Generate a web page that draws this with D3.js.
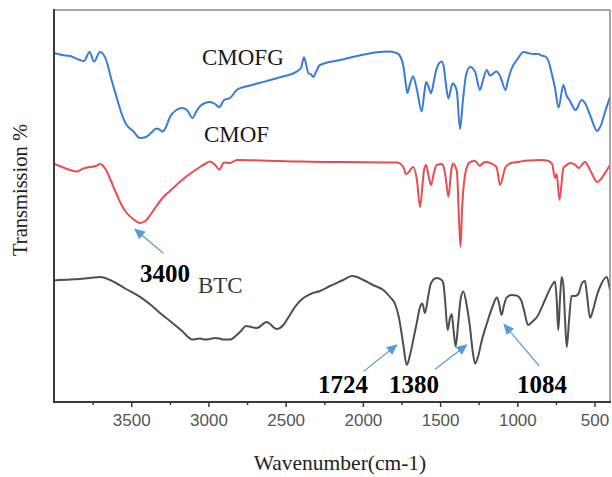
<!DOCTYPE html>
<html>
<head>
<meta charset="utf-8">
<script src="https://cdn.jsdelivr.net/npm/d3@7"></script>
<style>
  body { margin: 0; background: #fff; }
  svg { display: block; }
</style>
</head>
<body>
<div id="chart"></div>
<script>
// FTIR spectra, wavenumber (cm-1) vs transmission (offset, a.u.)
var cmofgWave = [4000, 3948, 3896, 3832, 3806, 3770, 3741, 3702, 3660, 3631, 3595, 3566, 3534, 3488, 3443, 3404, 3372, 3336, 3314, 3297, 3275, 3249, 3207, 3171, 3139, 3103, 3080, 3055, 3022, 2990, 2957, 2930, 2899, 2860, 2817, 2744, 2666, 2537, 2429, 2401, 2381, 2368, 2353, 2339, 2321, 2304, 2278, 2148, 1975, 1846, 1781, 1753, 1738, 1721, 1712, 1695, 1675, 1650, 1619, 1604, 1591, 1572, 1559, 1539, 1522, 1490, 1475, 1462, 1446, 1429, 1418, 1403, 1391, 1371, 1352, 1332, 1306, 1274, 1242, 1222, 1198, 1177, 1135, 1112, 1076, 1060, 1038, 996, 960, 931, 896, 866, 842, 814, 799, 775, 756, 733, 702, 680, 659, 623, 583, 562, 529, 482, 458, 432, 400];
var cmofgT = [87.25, 86.75, 86.5, 85.5, 85.25, 87.5, 85.1, 87.5, 85.25, 81, 76.25, 72.5, 69.5, 67.75, 66, 66.25, 67.25, 68.4, 68, 67.6, 68.75, 71.25, 73, 73.5, 73, 71, 72.5, 73.9, 74.75, 75, 74.5, 73.7, 75.5, 76, 78, 79, 79.8, 81.2, 82.6, 83.5, 86.2, 84.5, 82.2, 82, 81.25, 82.5, 84.25, 85.5, 87, 87.6, 87.25, 86, 84, 79.25, 77.25, 79.5, 81.4, 78, 72.6, 76.75, 80, 78.5, 77.2, 80.5, 83.4, 85.1, 83.5, 79.25, 75.9, 78.5, 79.7, 79, 77.5, 68.25, 75.5, 81.75, 83.75, 82.6, 78, 80.5, 83, 81.6, 82.6, 81.5, 78, 80.5, 83.25, 85.9, 87.5, 87.25, 87, 87, 86.6, 86.25, 85.25, 81.75, 78.5, 73.6, 79.25, 76.5, 75.25, 73, 75.5, 74.75, 71.75, 67.75, 69.25, 72.5, 76.25];

var cmofWave = [4000, 3948, 3896, 3858, 3806, 3767, 3728, 3702, 3663, 3631, 3595, 3566, 3534, 3488, 3443, 3404, 3372, 3336, 3297, 3249, 3207, 3171, 3103, 3055, 3022, 2990, 2957, 2930, 2899, 2860, 2817, 2666, 2407, 2148, 1846, 1781, 1738, 1721, 1708, 1675, 1650, 1630, 1604, 1591, 1572, 1559, 1539, 1522, 1490, 1475, 1462, 1446, 1429, 1418, 1403, 1391, 1380, 1368, 1358, 1332, 1306, 1274, 1242, 1222, 1198, 1177, 1135, 1112, 1076, 1038, 996, 931, 842, 799, 775, 756, 745, 727, 702, 680, 659, 623, 604, 562, 529, 482, 458, 432, 400];
var cmofT = [59.6, 58.75, 58, 57.6, 58.4, 58.75, 59, 59.5, 58, 55.25, 52, 49.5, 47.5, 45.75, 44.75, 45.4, 47, 49, 51, 52.75, 54.25, 55.5, 57.5, 58.75, 59.5, 60.1, 59.25, 58.1, 59.9, 59.75, 60.5, 60.4, 60.1, 60, 59.9, 59.9, 58.75, 57, 57.25, 58.75, 55.5, 48.75, 58, 59.25, 56, 54.25, 57.5, 59.25, 59.5, 58.5, 55.5, 51.25, 57.5, 59.6, 59, 57.5, 48, 38.75, 48, 58, 60, 60.25, 59, 59.75, 60, 59.75, 58.75, 54.25, 58.75, 59.75, 60, 60.4, 60.5, 60.25, 59.5, 56, 57, 50.5, 58.5, 59.25, 59.75, 59.25, 58.5, 60, 58, 55, 55.75, 57.25, 59.25];

var btcWave = [4000, 3896, 3767, 3702, 3637, 3534, 3443, 3372, 3314, 3249, 3171, 3103, 3055, 3022, 2990, 2957, 2930, 2899, 2860, 2817, 2789, 2757, 2724, 2686, 2623, 2558, 2515, 2485, 2440, 2401, 2339, 2278, 2213, 2127, 2072, 2038, 1997, 1935, 1868, 1824, 1792, 1766, 1753, 1738, 1716, 1695, 1674, 1650, 1630, 1615, 1598, 1578, 1565, 1546, 1522, 1490, 1479, 1468, 1451, 1436, 1425, 1413, 1399, 1384, 1368, 1350, 1328, 1306, 1290, 1274, 1255, 1231, 1188, 1157, 1133, 1119, 1102, 1086, 1069, 1038, 1004, 976, 954, 931, 905, 873, 821, 775, 756, 745, 735, 724, 713, 702, 691, 680, 665, 649, 626, 605, 581, 562, 549, 529, 510, 484, 465, 421, 406, 400];
var btcT = [30.4, 30.6, 31, 31.25, 30.5, 28.25, 26.3, 24.25, 22.25, 20.25, 17.75, 15.6, 15.9, 15.6, 15.75, 16, 15.9, 15.6, 15.6, 16.75, 17.75, 19, 18.75, 18.5, 20, 18.25, 19.25, 21, 23.75, 25.5, 27, 27.75, 29, 30.5, 31.5, 31.25, 30.5, 29.25, 28, 26.25, 24.5, 21, 18, 14.25, 9.25, 11.75, 15.5, 20, 23.75, 24.6, 22.25, 26.25, 29, 30.5, 31, 30.5, 29.6, 25.5, 18, 21, 22, 18, 13.9, 19.25, 25.5, 27.6, 24.25, 18.5, 13, 9.6, 11.25, 15.25, 20.75, 24.25, 26.1, 24.75, 21.75, 24.25, 26.1, 26.75, 26.6, 25.5, 22.5, 19.25, 20, 21.25, 25.5, 29.25, 30.1, 25.5, 18, 25.5, 31.25, 29.25, 20.5, 13.75, 20.5, 26.5, 26.5, 27, 29.75, 30.25, 26.75, 21, 23, 26.75, 28.75, 31.25, 29.25, 28];

var seriesNames = ['CMOFG', 'CMOF', 'BTC'];
var seriesColors = ['#3a7bd8', '#ec4b4f', '#4f4f4f'];

var majorTicks = [3500, 3000, 2500, 2000, 1500, 1000, 500];
var minorTicks = [3750, 3250, 2750, 2250, 1750, 1250, 750];

// peak labels: [text, wavenumber, value]
var peakLabels = [['3400', 3443, 30.1], ['1724', 2291, 2.3], ['1380', 1831, 2.3], ['1084', 1002, 2.3]];
// arrows: [fromWave, fromT, toWave, toT]
var peakArrows = [[3292, 37.2, 3476, 43.2], [1997, 7.6, 1781, 14.25], [1533, 8.2, 1328, 14.25], [858, 9, 1086, 19.4]];
// curve names: [text, wavenumber, value]
var nameLabels = [['CMOFG', 3042, 84.25], ['CMOF', 3029, 65.1], ['BTC', 3068, 27.3]];

var width = 612;
var height = 477;

var x = d3.scaleLinear()
    .domain([4000, 400])
    .range([54, 610]);

var y = d3.scaleLinear()
    .domain([0, 98])
    .range([402, 10]);

var svg = d3.select('#chart').append('svg')
    .attr('width', width)
    .attr('height', height);

var defs = svg.append('defs');
defs.append('clipPath')
    .attr('id', 'plot-clip')
    .append('rect')
    .attr('x', 54).attr('y', 10)
    .attr('width', 556).attr('height', 392);

defs.append('marker')
    .attr('id', 'arrow')
    .attr('viewBox', '0 0 10 10')
    .attr('refX', 9).attr('refY', 5)
    .attr('markerWidth', 11).attr('markerHeight', 11)
    .attr('markerUnits', 'userSpaceOnUse')
    .attr('orient', 'auto')
    .append('path')
    .attr('d', 'M0,0.5 L10,5 L0,9.5 Z')
    .style('fill', '#5b9bd5');

var series = [
    d3.zip(cmofgWave, cmofgT),
    d3.zip(cmofWave, cmofT),
    d3.zip(btcWave, btcT)
];

var line = d3.line()
    .x(function (d) { return x(d[0]) })
    .y(function (d) { return y(d[1]) })
    .curve(d3.curveMonotoneX);

svg.append('g')
    .attr('clip-path', 'url(#plot-clip)')
    .selectAll('path')
    .data(series)
    .enter()
    .append('path')
    .attr('d', line)
    .style('fill', 'none')
    .style('stroke', function (d, i) { return seriesColors[i] })
    .style('stroke-width', '2px')
    .style('stroke-linejoin', 'round');

// frame
var frame = svg.append('g');
frame.append('line').attr('x1', 54).attr('y1', 10).attr('x2', 610).attr('y2', 10)
    .style('stroke', '#8a8a8a').style('stroke-width', '1.5px');
frame.append('line').attr('x1', 610).attr('y1', 10).attr('x2', 610).attr('y2', 402)
    .style('stroke', '#8a8a8a').style('stroke-width', '1.5px');
frame.append('line').attr('x1', 54).attr('y1', 9).attr('x2', 54).attr('y2', 403)
    .style('stroke', '#3a3a3a').style('stroke-width', '2px');
frame.append('line').attr('x1', 53).attr('y1', 402).attr('x2', 611).attr('y2', 402)
    .style('stroke', '#3a3a3a').style('stroke-width', '2px');

// x axis
var xAxis = svg.append('g')
    .attr('transform', 'translate(0,402)')
    .call(d3.axisBottom(x).tickValues(majorTicks).tickSize(5).tickPadding(7).tickFormat(d3.format('d')));
xAxis.select('.domain').remove();
xAxis.selectAll('line').style('stroke', '#3a3a3a').style('stroke-width', '1.5px');
xAxis.selectAll('text')
    .style('font-family', 'Liberation Sans, Arial, sans-serif')
    .style('font-size', '17px')
    .style('fill', '#555');

var xMinor = svg.append('g')
    .attr('transform', 'translate(0,402)')
    .call(d3.axisBottom(x).tickValues(minorTicks).tickSize(3).tickFormat(''));
xMinor.select('.domain').remove();
xMinor.selectAll('line').style('stroke', '#3a3a3a').style('stroke-width', '1.5px');

// axis titles
svg.append('text')
    .attr('x', 340).attr('y', 470)
    .attr('text-anchor', 'middle')
    .style('font-family', 'Liberation Serif, Times New Roman, serif')
    .style('font-size', '21.5px')
    .style('fill', '#222')
    .text('Wavenumber(cm-1)');

svg.append('text')
    .attr('transform', 'translate(27,190) rotate(-90)')
    .attr('text-anchor', 'middle')
    .style('font-family', 'Liberation Serif, Times New Roman, serif')
    .style('font-size', '20.5px')
    .style('fill', '#222')
    .text('Transmission %');

// series names
svg.selectAll('text.name')
    .data(nameLabels)
    .enter()
    .append('text')
    .attr('class', 'name')
    .attr('x', function (d) { return x(d[1]) })
    .attr('y', function (d) { return y(d[2]) })
    .style('font-family', 'Liberation Serif, Times New Roman, serif')
    .style('font-size', '23px')
    .style('fill', function (d, i) { return i == 2 ? '#3a3a3a' : '#1a1a1a' })
    .text(function (d) { return d[0] });

// arrows
svg.selectAll('line.arrow')
    .data(peakArrows)
    .enter()
    .append('line')
    .attr('class', 'arrow')
    .attr('x1', function (d) { return x(d[0]) })
    .attr('y1', function (d) { return y(d[1]) })
    .attr('x2', function (d) { return x(d[2]) })
    .attr('y2', function (d) { return y(d[3]) })
    .style('stroke', '#5b9bd5')
    .style('stroke-width', '1.2px')
    .attr('marker-end', 'url(#arrow)');

// peak numbers
svg.selectAll('text.peak')
    .data(peakLabels)
    .enter()
    .append('text')
    .attr('class', 'peak')
    .attr('x', function (d) { return x(d[1]) })
    .attr('y', function (d) { return y(d[2]) })
    .style('font-family', 'Liberation Serif, Times New Roman, serif')
    .style('font-size', '25px')
    .style('font-weight', 'bold')
    .style('fill', '#000')
    .text(function (d) { return d[0] });
</script>
</body>
</html>
